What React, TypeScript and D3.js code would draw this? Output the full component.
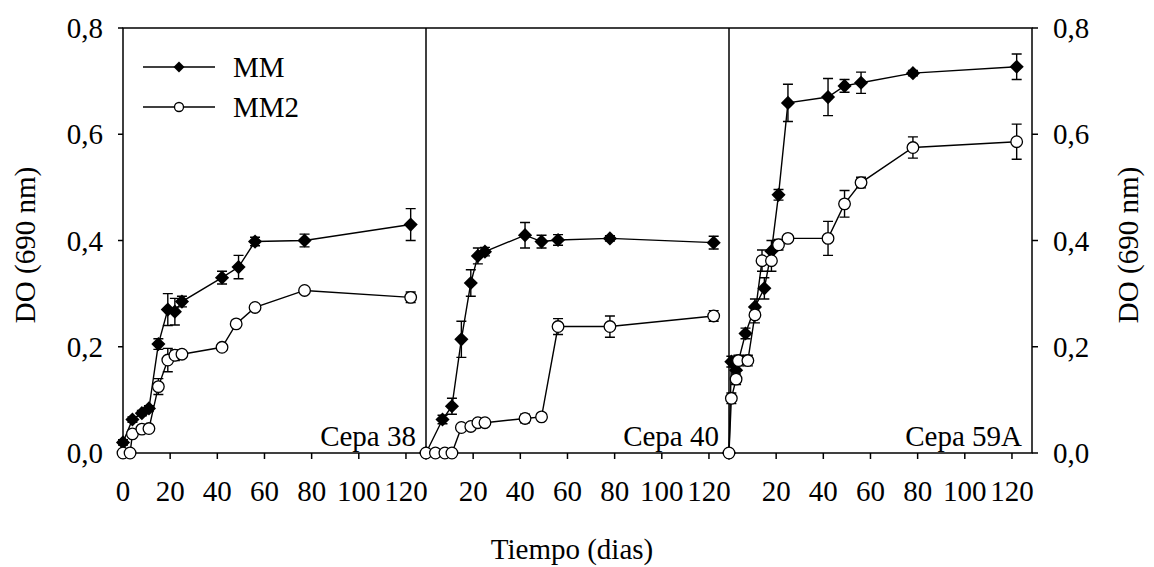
import React, { useRef, useEffect } from 'react';
import * as d3 from 'd3';

// 1) DATA (read off the reference picture)
const panelNames = ['Cepa 38', 'Cepa 40', 'Cepa 59A'];

const mmDays = [
  [0, 4, 8, 11, 15, 19, 22, 25, 42, 49, 56, 77, 122],
  [0, 7, 11, 15, 19, 22, 25, 42, 49, 56, 78, 122],
  [0, 1, 3, 7, 11, 15, 18, 21, 25, 42, 49, 56, 78, 122],
];
const mmValues = [
  [0.02, 0.063, 0.075, 0.084, 0.205, 0.27, 0.266, 0.285, 0.33, 0.35, 0.398, 0.4, 0.43],
  [0, 0.063, 0.088, 0.214, 0.32, 0.371, 0.379, 0.41, 0.398, 0.401, 0.404, 0.396],
  [0, 0.172, 0.156, 0.225, 0.275, 0.31, 0.38, 0.486, 0.659, 0.67, 0.691, 0.697, 0.715, 0.727],
];
const mmErrors = [
  [0.005, 0.005, 0.005, 0.005, 0.01, 0.03, 0.025, 0.01, 0.012, 0.022, 0.008, 0.012, 0.03],
  [0, 0.008, 0.015, 0.034, 0.025, 0.015, 0.008, 0.024, 0.012, 0.01, 0.005, 0.012],
  [0, 0.01, 0.01, 0.01, 0.015, 0.02, 0.02, 0.01, 0.035, 0.035, 0.012, 0.02, 0.005, 0.024],
];

const mm2Days = [
  [0, 3, 4, 8, 11, 15, 19, 22, 25, 42, 48, 56, 77, 122],
  [0, 4, 8, 11, 15, 19, 22, 25, 42, 49, 56, 78, 122],
  [0, 1, 3, 4, 8, 11, 14, 18, 21, 25, 42, 49, 56, 78, 122],
];
const mm2Values = [
  [0, 0, 0.036, 0.045, 0.046, 0.125, 0.175, 0.184, 0.186, 0.199, 0.243, 0.274, 0.306, 0.293],
  [0, 0, 0, 0, 0.048, 0.05, 0.057, 0.057, 0.065, 0.068, 0.238, 0.238, 0.258],
  [0, 0.103, 0.139, 0.174, 0.174, 0.26, 0.362, 0.362, 0.392, 0.404, 0.404, 0.469, 0.509, 0.575, 0.586],
];
const mm2Errors = [
  [0, 0, 0.005, 0.005, 0.005, 0.015, 0.022, 0.01, 0.005, 0.005, 0.005, 0.005, 0.005, 0.01],
  [0, 0, 0, 0, 0.005, 0.005, 0.005, 0.005, 0.008, 0.005, 0.015, 0.02, 0.01],
  [0, 0.01, 0.01, 0.01, 0.01, 0.015, 0.02, 0.02, 0.01, 0.005, 0.032, 0.025, 0.01, 0.02, 0.033],
];

const xTicks = [0, 20, 40, 60, 80, 100, 120];
const yTicks = [0, 0.2, 0.4, 0.6, 0.8];

const App = () => {
  const ref = useRef<SVGSVGElement>(null);

  useEffect(() => {
    const width = 1154;
    const height = 567;
    const left = 123;
    const right = 1032;
    const top = 28;
    const bottom = 453;
    const panelW = (right - left) / 3;
    const font = "'Liberation Serif', 'DejaVu Serif', 'Noto Serif', FreeSerif, Tinos, Times, serif";
    const fs = 29;

    const svg = d3.select(ref.current);
    svg.selectAll('*').remove();
    svg.attr('width', width).attr('height', height);

    const y = d3.scaleLinear().domain([0, 0.8]).range([bottom, top]);
    const fmt = (v: number) => d3.format('.1f')(v).replace('.', ',');

    const diamond = (size: number) =>
      d3.symbol().type(d3.symbolSquare).size(size)();

    // frame and dividers
    svg.append('rect')
      .attr('x', left).attr('y', top)
      .attr('width', right - left).attr('height', bottom - top)
      .attr('fill', 'none').attr('stroke', '#000').attr('stroke-width', 1.5);
    [1, 2].forEach(i => {
      svg.append('line')
        .attr('x1', left + panelW * i).attr('x2', left + panelW * i)
        .attr('y1', top).attr('y2', bottom)
        .attr('stroke', '#000').attr('stroke-width', 1.5);
    });

    // y axes, left and right
    const yAx = svg.append('g');
    yTicks.forEach(t => {
      yAx.append('line').attr('x1', left - 5).attr('x2', left)
        .attr('y1', y(t)).attr('y2', y(t)).attr('stroke', '#000').attr('stroke-width', 1.5);
      yAx.append('line').attr('x1', right).attr('x2', right + 6)
        .attr('y1', y(t)).attr('y2', y(t)).attr('stroke', '#000').attr('stroke-width', 1.5);
      yAx.append('text').text(fmt(t))
        .attr('x', left - 20).attr('y', y(t)).attr('dy', '0.35em')
        .attr('text-anchor', 'end');
      yAx.append('text').text(fmt(t))
        .attr('x', right + 21).attr('y', y(t)).attr('dy', '0.35em')
        .attr('text-anchor', 'start');
    });

    // panels
    panelNames.forEach((name, p) => {
      const x0 = left + panelW * p;
      const x = d3.scaleLinear().domain([0, 128.5]).range([x0, x0 + panelW]);
      const g = svg.append('g');

      xTicks.forEach(t => {
        if (p > 0 && t === 0) return;
        g.append('line').attr('x1', x(t)).attr('x2', x(t))
          .attr('y1', bottom).attr('y2', bottom + 6)
          .attr('stroke', '#000').attr('stroke-width', 1.5);
        g.append('text').text(t)
          .attr('x', x(t)).attr('y', 501).attr('text-anchor', 'middle');
      });

      g.append('text').text(name)
        .attr('x', x0 + panelW - 10).attr('y', 446)
        .attr('text-anchor', 'end');

      const series = [
        { days: mmDays[p], vals: mmValues[p], errs: mmErrors[p], filled: true },
        { days: mm2Days[p], vals: mm2Values[p], errs: mm2Errors[p], filled: false },
      ];

      series.forEach(s => {
        const pts = s.days.map((d, i) => ({ d, v: s.vals[i], e: s.errs[i] }));
        const line = d3.line<{ d: number; v: number }>()
          .x(d => x(d.d)).y(d => y(d.v));
        g.append('path').attr('d', line(pts))
          .attr('fill', 'none').attr('stroke', '#000').attr('stroke-width', 1.4);

        // error bars
        pts.filter(d => d.e > 0).forEach(d => {
          const cx = x(d.d);
          const y1 = y(d.v + d.e);
          const y2 = y(d.v - d.e);
          g.append('path')
            .attr('d', `M${cx},${y1}V${y2}M${cx - 5},${y1}H${cx + 5}M${cx - 5},${y2}H${cx + 5}`)
            .attr('fill', 'none').attr('stroke', '#000').attr('stroke-width', 1.4);
        });

        // markers
        pts.forEach(d => {
          if (s.filled) {
            g.append('path').attr('d', diamond(100))
              .attr('transform', `translate(${x(d.d)},${y(d.v)}) rotate(45)`)
              .attr('fill', '#000');
          } else {
            g.append('circle').attr('cx', x(d.d)).attr('cy', y(d.v)).attr('r', 5.8)
              .attr('fill', '#fff').attr('stroke', '#000').attr('stroke-width', 1.3);
          }
        });
      });
    });

    // legend
    const lg = svg.append('g');
    [
      { label: 'MM', filled: true, ly: 67 },
      { label: 'MM2', filled: false, ly: 107 },
    ].forEach(l => {
      lg.append('line').attr('x1', 143).attr('x2', 215).attr('y1', l.ly).attr('y2', l.ly)
        .attr('stroke', '#000').attr('stroke-width', 1.4);
      if (l.filled) {
        lg.append('path').attr('d', diamond(60))
          .attr('transform', `translate(179,${l.ly}) rotate(45)`).attr('fill', '#000');
      } else {
        lg.append('circle').attr('cx', 179).attr('cy', l.ly).attr('r', 4.5)
          .attr('fill', '#fff').attr('stroke', '#000').attr('stroke-width', 1.3);
      }
      lg.append('text').text(l.label).attr('x', 233).attr('y', l.ly + 10);
    });

    // axis titles
    svg.append('text').text('Tiempo (dias)')
      .attr('x', 572).attr('y', 559).attr('text-anchor', 'middle');
    svg.append('text').text('DO (690 nm)')
      .attr('transform', 'translate(25,245) rotate(-90)')
      .attr('dy', '0.35em').attr('text-anchor', 'middle');
    svg.append('text').text('DO (690 nm)')
      .attr('transform', 'translate(1128,245) rotate(-90)')
      .attr('dy', '0.35em').attr('text-anchor', 'middle');

    svg.selectAll('text')
      .style('font-family', font).style('font-size', `${fs}px`).attr('fill', '#000');
  }, []);

  return (
    <svg ref={ref} style={{ position: 'absolute', left: 0, top: 0, background: '#fff' }} />
  );
};

export default App;
